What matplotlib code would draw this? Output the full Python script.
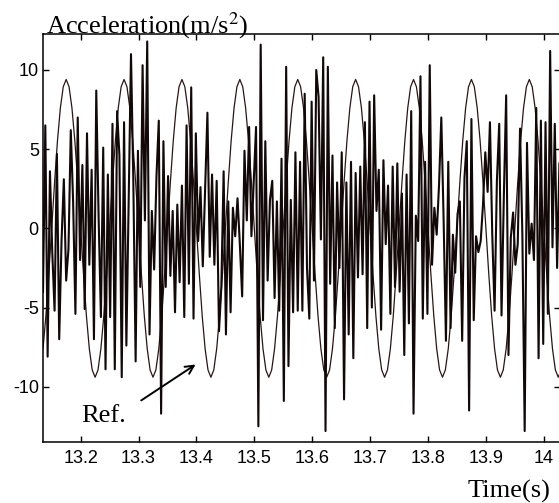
import numpy as np
import matplotlib
matplotlib.use("Agg")
import matplotlib.pyplot as plt
from matplotlib.ticker import FixedLocator

plt.rcParams['axes.unicode_minus'] = False
plt.rcParams['mathtext.fontset'] = 'stix'

# measured acceleration, sampled every 4 ms from 13.135 s
t0 = 13.135
dt = 0.004
accel = [-4.0, 6.5, -8.1, 3.6, -1.5, -5.2, 4.7, -7.0, -0.8, 3.1, -3.3, -1.3, 6.2, 1.7, -5.4, 7.0,
         -2.0, 4.0, -5.1, 6.0, -2.3, 3.7, -7.0, 8.7, 0.8, -5.6, 5.1, -8.9, 3.4, -5.6, 6.6, -8.9,
         7.4, 4.6, -9.4, 6.7, -7.4, 2.0, 11.0, 3.0, -8.4, 4.9, -3.7, 10.3, 0.5, 11.8, -6.7, 1.1,
         -2.6, 3.3, 6.8, -11.7, 5.5, -3.7, 3.3, -3.0, 1.1, -5.3, 1.5, -3.4, 2.7, -5.6, 6.5, -3.5,
         8.9, -5.7, 6.0, -0.8, 2.6, -2.4, 2.5, 7.3, -1.8, 3.4, -2.3, 3.0, -6.5, -3.7, 3.6, -6.7,
         1.7, -5.3, 1.3, -0.5, 1.9, -1.0, -4.3, 4.9, 0.5, 6.4, -0.5, 3.0, 6.4, -12.5, 11.6, -5.8,
         5.5, -3.3, 1.8, 3.0, -4.4, 1.7, -5.2, 4.4, -10.9, 10.2, -8.7, 1.8, -5.3, 4.8, -5.2, 4.2,
         -5.2, 8.5, -2.5, -5.7, 8.0, -3.3, 10.0, 8.3, -0.7, 10.8, -12.8, 10.2, -3.5, 4.6, -6.3, 2.9,
         -2.5, 4.8, -10.8, 2.9, -6.7, 4.2, -8.2, 3.5, -3.1, 3.9, -2.9, 6.7, -6.3, 8.0, -5.0, 8.4,
         1.1, 3.7, -6.4, 4.3, -1.0, 2.7, -5.4, 3.9, -3.7, 4.1, -4.0, 2.2, -8.0, 3.4, -6.0, 7.4,
         -11.7, 0.8, -0.8, 9.6, -5.7, 4.2, -5.4, 10.3, -2.3, 1.3, -0.4, 2.7, 7.0, 0.5, -7.1, 4.2,
         -6.3, -0.4, -2.8, 0.9, 1.7, -7.1, 3.2, 5.5, -11.5, 6.9, -5.8, -0.5, -1.5, -0.8, 1.5, 4.8,
         2.3, 6.7, -0.4, -5.2, 3.0, 6.6, -5.5, 2.0, 8.4, -8.0, -0.6, 1.0, -2.3, -1.0, 6.3, -0.4,
         -12.8, 5.4, -1.6, 0.3, -2.0, 7.6, -8.2, 6.8, -7.3, 6.7, -5.4, 11.2, -1.2, 6.6, -2.5, 4.1]

# reference signal, sampled every 5 ms from 13.135 s
ref_t0 = 13.135
ref_dt = 0.005
ref = [-7.6, -5.53, -2.9, 0, 2.9, 5.53, 7.6, 8.94,
       9.4, 8.94, 7.6, 5.53, 2.9, 0, -2.9, -5.53, -7.6, -8.94, -9.4, -8.94, -7.6, -5.53, -2.9, 0, 2.9, 5.53, 7.6, 8.94,
       9.4, 8.94, 7.6, 5.53, 2.9, 0, -2.9, -5.53, -7.6, -8.94, -9.4, -8.94, -7.6, -5.53, -2.9, 0, 2.9, 5.53, 7.6, 8.94,
       9.4, 8.94, 7.6, 5.53, 2.9, 0, -2.9, -5.53, -7.6, -8.94, -9.4, -8.94, -7.6, -5.53, -2.9, 0, 2.9, 5.53, 7.6, 8.94,
       9.4, 8.94, 7.6, 5.53, 2.9, 0, -2.9, -5.53, -7.6, -8.94, -9.4, -8.94, -7.6, -5.53, -2.9, 0, 2.9, 5.53, 7.6, 8.94,
       9.4, 8.94, 7.6, 5.53, 2.9, 0, -2.9, -5.53, -7.6, -8.94, -9.4, -8.94, -7.6, -5.53, -2.9, 0, 2.9, 5.53, 7.6, 8.94,
       9.4, 8.94, 7.6, 5.53, 2.9, 0, -2.9, -5.53, -7.6, -8.94, -9.4, -8.94, -7.6, -5.53, -2.9, 0, 2.9, 5.53, 7.6, 8.94,
       9.4, 8.94, 7.6, 5.53, 2.9, 0, -2.9, -5.53, -7.6, -8.94, -9.4, -8.94, -7.6, -5.53, -2.9, 0, 2.9, 5.53, 7.6, 8.94,
       9.4, 8.94, 7.6, 5.53, 2.9, 0, -2.9, -5.53, -7.6, -8.94, -9.4, -8.94, -7.6, -5.53, -2.9, 0, 2.9, 5.53, 7.6, 8.94,
       9.4, 8.94, 7.6, 5.53, 2.9, 0, -2.9, -5.53, -7.6, -8.94, -9.4, -8.94]

xticks = [13.2, 13.3, 13.4, 13.5, 13.6, 13.7, 13.8, 13.9, 14.0]
xticklabels = ['13.2', '13.3', '13.4', '13.5', '13.6', '13.7', '13.8', '13.9', '14']
yticks = [-10, -5, 0, 5, 10]
yticklabels = ['-10', '-5', '0', '5', '10']

t = t0 + dt * np.arange(len(accel))
t_ref = ref_t0 + ref_dt * np.arange(len(ref))

fig = plt.figure(figsize=(5.59, 5.03), dpi=100)
ax = fig.add_axes([43 / 559, 61 / 503, 517 / 559, 408 / 503])

ax.plot(t_ref, ref, color='#2a1515', lw=0.9)
ax.plot(t, accel, color='#120808', lw=1.5)

ax.set_xlim(13.135, 14.028)
ax.set_ylim(-13.49, 12.27)
ax.xaxis.set_major_locator(FixedLocator(xticks))
ax.set_xticklabels(xticklabels, fontsize=13, family='Liberation Sans')
ax.yaxis.set_major_locator(FixedLocator(yticks))
ax.set_yticklabels(yticklabels, fontsize=13, family='Liberation Sans')
ax.tick_params(axis='both', direction='in', length=4, width=1, top=True, right=True)
ax.tick_params(axis='x', pad=6)
ax.tick_params(axis='y', pad=3)
for s in ax.spines.values():
    s.set_linewidth(1.1)

ax.text(13.2017, -12.21, 'Ref.', fontsize=19, family='Liberation Serif', va='baseline')
ax.annotate('', xy=(13.4026, -8.5), xytext=(13.3007, -10.96),
            arrowprops=dict(arrowstyle='->,head_length=0.6,head_width=0.3', lw=1.4, color='black'))

fig.text(45.5 / 559, 1 - 33 / 503, r'Acceleration(m/s$^2$)', fontsize=19,
         family='Liberation Serif', va='baseline', ha='left')
fig.text(550 / 559, 1 - 498 / 503, 'Time(s)', fontsize=19,
         family='Liberation Serif', va='baseline', ha='right')

fig.savefig('out.png', dpi=100)
